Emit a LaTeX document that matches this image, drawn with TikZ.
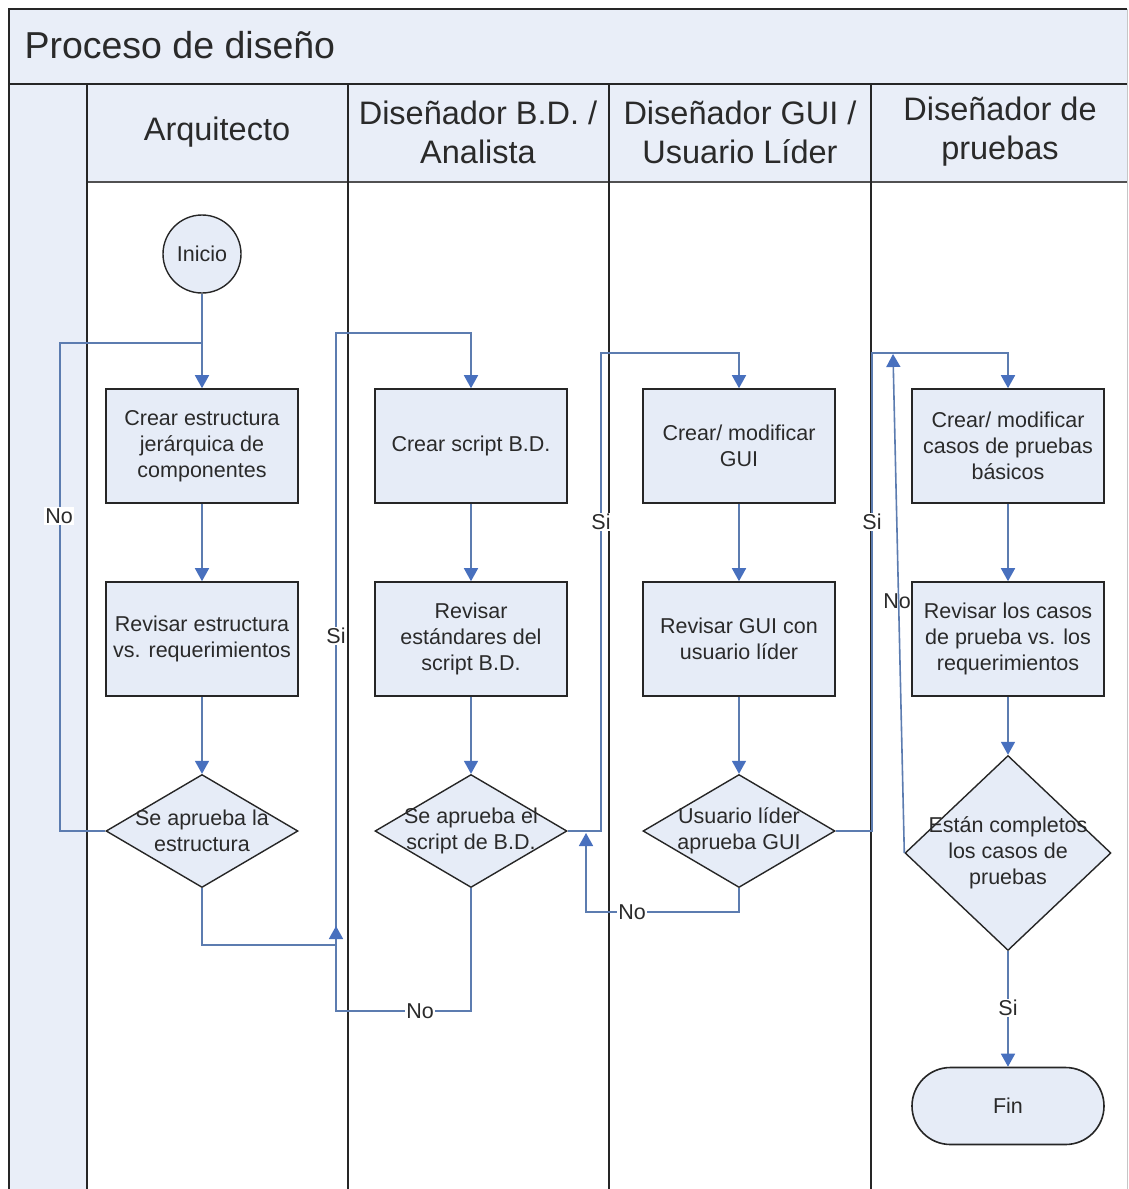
\documentclass[tikz,border=0pt]{standalone}
\usepackage{fontspec}
\setmainfont{Liberation Sans}
\usetikzlibrary{shapes.geometric,shapes.misc,arrows.meta}

\definecolor{laneFill}{RGB}{233,238,248}
\definecolor{boxFill}{RGB}{230,236,247}
\definecolor{frameCol}{RGB}{38,38,38}
\definecolor{flowCol}{RGB}{92,124,176}
\definecolor{tipCol}{RGB}{72,112,190}
\definecolor{inkCol}{RGB}{42,42,42}

\begin{document}
\begin{tikzpicture}[x=1pt,y=-1pt,
  every node/.style={text=inkCol},
  boxtxt/.style={font=\fontsize{21.5}{26}\selectfont, align=center},
  headtxt/.style={font=\fontsize{32.5}{39}\selectfont, align=center},
  procbox/.style={draw=frameCol, line width=1.6pt, fill=boxFill,
    minimum width=192pt, minimum height=114pt, inner sep=0pt, boxtxt},
  decision/.style={diamond, draw=frameCol, line width=1.4pt, fill=boxFill,
    inner sep=0pt, minimum width=192pt, minimum height=113pt},
  dectxt/.style={boxtxt, inner sep=0pt},
  flow/.style={draw=flowCol, line width=1.6pt},
  flowarrow/.style={flow, -{Triangle[width=14pt,length=13pt,color=tipCol]}},
  tag/.style={boxtxt, fill=white, inner sep=1.5pt},
  lane/.style={draw=frameCol, line width=2.4pt},
]
\useasboundingbox (0,0) rectangle (1129,1189);

% ---- pool background ----
\fill[laneFill] (9,9) rectangle (1127,84);
\fill[laneFill] (9,84) rectangle (87,1189);
\fill[laneFill] (87,84) rectangle (1127,182);
\fill[white] (87,182) rectangle (1127,1189);

% ---- pool frame and lane separators ----
\draw[gray!45, line width=1pt] (1127,9) -- (1127,1189);
\draw[lane, line width=2.8pt] (9,1189) -- (9,9) -- (1127,9);
\draw[lane, line width=2.8pt] (9,84) -- (1127,84);
\draw[draw=frameCol!80, line width=2pt] (87,182) -- (1127,182);
\foreach \lx in {87,348,609,871}
  \draw[lane] (\lx,84) -- (\lx,1189);

% ---- titles ----
\node[anchor=base west, font=\fontsize{37.5}{45}\selectfont] (title) at (21,58) {Proceso de diseño};
\node[headtxt] (h1) at (217,132) {Arquitecto};
\node[headtxt] (h2) at (478,132) {Diseñador B.D. /\\Analista};
\node[headtxt] (h3) at (740,132) {Diseñador GUI /\\Usuario Líder};
\node[headtxt] (h4) at (1000,132) {Diseñador de\\pruebas};

% ---- flow nodes ----
\node[circle, draw=frameCol, line width=1.4pt, fill=boxFill, minimum size=78pt,
  inner sep=0pt, boxtxt] (start) at (202,254) {Inicio};

\node[procbox] (a1) at (202,446) {Crear estructura\\jerárquica de\\componentes};
\node[procbox] (a2) at (202,639) {Revisar estructura\\vs. requerimientos};
\node[decision] (da) at (202,831) {};

\node[procbox] (b1) at (471,446) {Crear script B.D.};
\node[procbox] (b2) at (471,639) {Revisar\\estándares del\\script B.D.};
\node[decision] (db) at (471,831) {};

\node[procbox] (c1) at (739,446) {Crear/ modificar\\GUI};
\node[procbox] (c2) at (739,639) {Revisar GUI con\\usuario líder};
\node[decision] (dc) at (739,831) {};

\node[procbox] (p1) at (1008,446) {Crear/ modificar\\casos de pruebas\\básicos};
\node[procbox] (p2) at (1008,639) {Revisar los casos\\de prueba vs. los\\requerimientos};
\node[decision, minimum width=206pt, minimum height=195pt] (dd) at (1008,853) {};

\node[rounded rectangle, draw=frameCol, line width=1.6pt, fill=boxFill,
  minimum width=192pt, minimum height=77pt, inner sep=0pt, boxtxt] (fin) at (1008,1106) {Fin};

% ---- bend points ----
\coordinate (loopA) at (60,343);
\coordinate (joinB) at (336,945);
\coordinate (markB) at (336,926);
\coordinate (topB) at (336,333);
\coordinate (riseC) at (601,353);
\coordinate (backC) at (586,912);
\coordinate (hitC) at (586,833);
\coordinate (riseD) at (872,353);
\coordinate (backD) at (893,354);

% ---- connectors ----
\draw[flowarrow] (start.south) -- (a1.north);
\draw[flowarrow] (a1.south) -- (a2.north);
\draw[flowarrow] (a2.south) -- (da.north);
\draw[flow] (da.west) -| (loopA) -- (start.south |- loopA);
\draw[flow] (da.south) |- (joinB);

\draw[flowarrow] (db.south) |- (336,1011) -- (topB) -| (b1.north);
\draw[flowarrow] (joinB) -- (markB);
\draw[flowarrow] (b1.south) -- (b2.north);
\draw[flowarrow] (b2.south) -- (db.north);

\draw[flowarrow] (db.east) -| (riseC) -| (c1.north);
\draw[flowarrow] (c1.south) -- (c2.north);
\draw[flowarrow] (c2.south) -- (dc.north);
\draw[flowarrow] (dc.south) |- (backC) -- (hitC);

\draw[flowarrow] (dc.east) -| (riseD) -| (p1.north);
\draw[flowarrow] (p1.south) -- (p2.north);
\draw[flowarrow] (p2.south) -- (dd.north);
\draw[flowarrow] (dd.west) -- (backD);
\draw[flowarrow] (dd.south) -- (fin.north);

% ---- decision texts ----
\node[dectxt] (dat) at (da) {Se aprueba la\\estructura};
\node[dectxt] (dbt) at (db) {Se aprueba el\\script de B.D.};
\node[dectxt] (dct) at (dc) {Usuario líder\\aprueba GUI};
\node[dectxt] (ddt) at (dd) {Están completos\\los casos de\\pruebas};

% ---- connector labels ----
\node[tag] (lNoA) at (59,516) {No};
\node[tag] (lSiB) at (336,636) {Si};
\node[tag] (lNoB) at (420,1011) {No};
\node[tag] (lSiC) at (601,522) {Si};
\node[tag] (lNoC) at (632,912) {No};
\node[tag] (lSiD) at (872,522) {Si};
\node[tag, fill=none] (lNoD) at (897,601) {No};
\node[tag] (lSiE) at (1008,1008) {Si};
\end{tikzpicture}
\end{document}
